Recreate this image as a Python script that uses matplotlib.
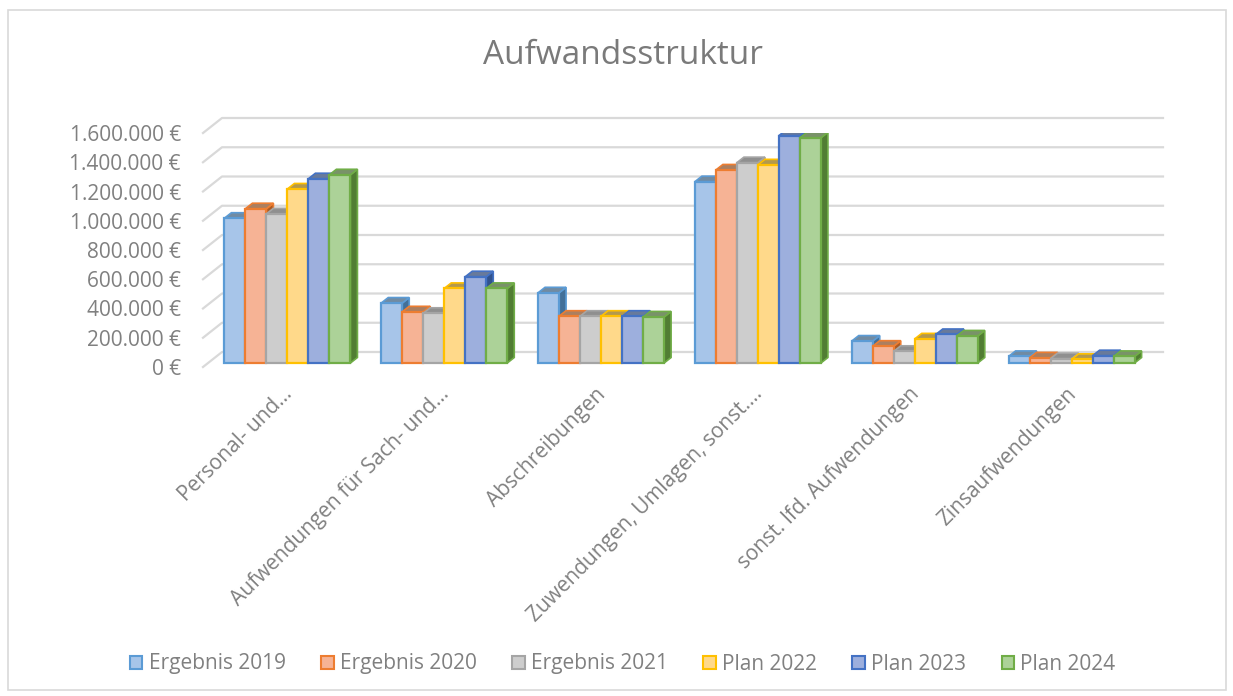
import matplotlib
matplotlib.use("Agg")
import matplotlib.pyplot as plt
from matplotlib.patches import Polygon, Patch, Rectangle
from matplotlib.ticker import FuncFormatter
import numpy as np

plt.rcParams['font.family'] = ['Open Sans', 'DejaVu Sans']

categories = [
    "Personal- und…",
    "Aufwendungen für Sach- und…",
    "Abschreibungen",
    "Zuwendungen, Umlagen, sonst.…",
    "sonst. lfd. Aufwendungen",
    "Zinsaufwendungen",
]
series_names = ["Ergebnis 2019", "Ergebnis 2020", "Ergebnis 2021", "Plan 2022", "Plan 2023", "Plan 2024"]

ergebnis_2019 = [990000, 410000, 480000, 1240000, 150000, 45000]
ergebnis_2020 = [1055000, 350000, 320000, 1320000, 115000, 35000]
ergebnis_2021 = [1020000, 340000, 320000, 1370000, 80000, 30000]
plan_2022 = [1190000, 510000, 320000, 1355000, 165000, 25000]
plan_2023 = [1260000, 590000, 320000, 1555000, 195000, 50000]
plan_2024 = [1287000, 510000, 315000, 1540000, 185000, 45000]
values = [ergebnis_2019, ergebnis_2020, ergebnis_2021, plan_2022, plan_2023, plan_2024]

edge_colors = ["#5B9BD5", "#ED7D31", "#A5A5A5", "#FFC000", "#4472C4", "#70AD47"]
face_colors = ["#A7C5E9", "#F6B395", "#CDCDCD", "#FFD98A", "#9DAFDD", "#ACD298"]

y_ticks = np.arange(0, 1600001, 200000)
text_color = "#808080"


def shade(hex_color, f):
    c = np.array(matplotlib.colors.to_rgb(hex_color))
    return tuple(c * f)


def toward_gray(hex_color, f):
    c = np.array(matplotlib.colors.to_rgb(hex_color))
    g = np.array([0.5, 0.5, 0.5])
    return tuple(c * (1 - f) + g * f)


fig = plt.figure(figsize=(12.33, 6.96), dpi=100)
ax_w_px, ax_h_px = 941, 234
ax = fig.add_axes([203 / 1233, 1 - 367 / 696, ax_w_px / 1233, ax_h_px / 696])
ax.set_xlim(-0.5, len(categories) - 0.5)
ax.set_ylim(0, 1600000)
for s in ax.spines.values():
    s.set_visible(False)

# pixel -> data conversion for the fake 3D offsets
kx = len(categories) / ax_w_px
ky = 1600000 / ax_h_px

# back wall gridlines with diagonal on the side wall
wall_dx, wall_dy = 19 * kx, 15 * ky
for v in y_ticks:
    ax.plot([-0.5, -0.5 + wall_dx, len(categories) - 0.5 + wall_dx],
            [v, v + wall_dy, v + wall_dy],
            color="#d9d9d9", lw=1.6, zorder=1, clip_on=False)

# bars
w = 21 / 156.8
shift_x, base = 6 * kx, 4 * ky
dxb, dyb = 7 * kx, 5.5 * ky
x = np.arange(len(categories))
for i, vals in enumerate(values):
    xc = x + shift_x + (i - 2.5) * w
    z = 3 + i
    ax.bar(xc, vals, width=w, bottom=base, color=face_colors[i],
           edgecolor=edge_colors[i], linewidth=1.6, zorder=z)
    for xi, v in zip(xc, vals):
        xl, xr = xi - w / 2, xi + w / 2
        top = base + v
        side = Polygon([(xr, base), (xr + dxb, base + dyb), (xr + dxb, top + dyb), (xr, top)],
                       closed=True, facecolor=shade(edge_colors[i], 0.72),
                       edgecolor=edge_colors[i], lw=1.2, zorder=z - 0.5)
        lid = Polygon([(xl, top), (xl + dxb, top + dyb), (xr + dxb, top + dyb), (xr, top)],
                      closed=True, facecolor=toward_gray(edge_colors[i], 0.6),
                      edgecolor=edge_colors[i], lw=1.2, zorder=z - 0.5)
        ax.add_patch(side)
        ax.add_patch(lid)

ax.set_yticks(y_ticks)
ax.yaxis.set_major_formatter(FuncFormatter(lambda v, p: f"{int(v):,} €".replace(",", ".")))
ax.set_xticks(x)
ax.set_xticklabels(categories, rotation=45, ha="right", rotation_mode="anchor")
ax.tick_params(axis="y", length=0, pad=16, labelsize=15, labelcolor=text_color)
ax.tick_params(axis="x", length=0, pad=12, labelsize=15, labelcolor=text_color)

fig.text(0.505, 1 - 56 / 696, "Aufwandsstruktur", ha="center", va="center",
         fontsize=24, color="#7a7a7a")

handles = [Patch(facecolor=face_colors[i], edgecolor=edge_colors[i], linewidth=1.5)
           for i in range(len(series_names))]
fig.legend(handles, series_names, loc="center", bbox_to_anchor=(0.505, 1 - 664 / 696),
           ncol=6, frameon=False, fontsize=15, labelcolor=text_color,
           handlelength=0.6, handleheight=0.6, handletextpad=0.3, columnspacing=1.7)

fig.patches.append(Rectangle((8 / 1233, 1 - 690 / 696), 1218 / 1233, 680 / 696,
                             transform=fig.transFigure, fill=False,
                             edgecolor="#d9d9d9", lw=1.2))

fig.savefig("out.png", dpi=100)
plt.close(fig)
